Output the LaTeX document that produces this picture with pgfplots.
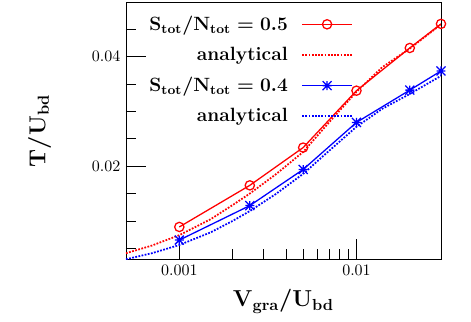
\documentclass[border=0pt]{standalone}
\usepackage{pgfplots}
\pgfplotsset{compat=1.18}
\usetikzlibrary{calc}

% gnuplot-like star: plus and cross together
\pgfdeclareplotmark{pstar}{%
  \pgfpathmoveto{\pgfqpoint{-\pgfplotmarksize}{0pt}}%
  \pgfpathlineto{\pgfqpoint{\pgfplotmarksize}{0pt}}%
  \pgfpathmoveto{\pgfqpoint{0pt}{-\pgfplotmarksize}}%
  \pgfpathlineto{\pgfqpoint{0pt}{\pgfplotmarksize}}%
  \pgfpathmoveto{\pgfqpoint{-\pgfplotmarksize}{-\pgfplotmarksize}}%
  \pgfpathlineto{\pgfqpoint{\pgfplotmarksize}{\pgfplotmarksize}}%
  \pgfpathmoveto{\pgfqpoint{-\pgfplotmarksize}{\pgfplotmarksize}}%
  \pgfpathlineto{\pgfqpoint{\pgfplotmarksize}{-\pgfplotmarksize}}%
  \pgfusepathqstroke}

\begin{document}
\begin{tikzpicture}
\begin{semilogxaxis}[
    scale only axis,
    width=196.9pt, height=160.8pt,
    xmin=0.0005, xmax=0.03,
    ymin=0.003, ymax=0.05,
    xtick={0.001,0.01},
    xticklabels={0.001,0.01},
    ytick={0.02,0.04},
    yticklabels={0.02,0.04},
    minor ytick={0.005,0.01,0.015,0.025,0.03,0.035,0.045},
    tick pos=left,
    tick align=inside,
    major tick length=12.5pt,
    minor tick length=6.25pt,
    tick style={black, line width=0.5pt},
    axis line style={black, line width=0.6pt},
    xlabel={$\mathrm{V_{gra}/U_{bd}}$},
    ylabel={$\mathrm{T/U_{bd}}$},
    label style={font=\Large\boldmath},
    xlabel style={at={(axis description cs:0.5,-0.184)}, anchor=base},
    ylabel style={at={(axis description cs:-0.274,0.5)}, anchor=center},
    legend plot pos=right,
    legend cell align=right,
    legend style={draw=none, fill=none, font=\large\boldmath,
        at={(axis description cs:0.048,0.972)}, anchor=north west,
        row sep=5pt, column sep=6.5pt},
    legend image code/.code={%
        \draw[mark repeat=2,mark phase=2]
        plot coordinates {(0pt,0pt) (15.5pt,0pt) (31pt,0pt)};},
]
\addplot[red, line width=0.8pt, mark=o, mark size=2.9pt, mark options={solid}]
coordinates {(0.001,0.0089) (0.0025,0.0165) (0.005,0.0234) (0.01,0.0338) (0.02,0.0416) (0.03,0.0460)};
\addlegendentry{$\mathrm{S_{tot}/N_{tot}=0.5}$}

\addplot[red, line width=1.1pt, dash pattern=on 1.1pt off 0.9pt]
coordinates {(0.0005,0.0041) (0.0007,0.0055) (0.001,0.0074) (0.0015,0.0103) (0.002,0.0129) (0.0025,0.0150) (0.0035,0.0185) (0.005,0.0226) (0.007,0.0280) (0.01,0.0336) (0.014,0.0381) (0.02,0.0415) (0.03,0.0459)};
\addlegendentry{\textbf{analytical}}

\addplot[blue, line width=0.8pt, mark=pstar, mark size=2.8pt, mark options={solid}]
coordinates {(0.001,0.0065) (0.0025,0.0128) (0.005,0.0194) (0.01,0.0280) (0.02,0.0339) (0.03,0.0374)};
\addlegendentry{$\mathrm{S_{tot}/N_{tot}=0.4}$}

\addplot[blue, line width=1.1pt, dash pattern=on 1.1pt off 0.9pt]
coordinates {(0.0005,0.0030) (0.0007,0.0041) (0.001,0.0056) (0.0015,0.0079) (0.002,0.0100) (0.0025,0.0118) (0.0035,0.0149) (0.005,0.0186) (0.007,0.0228) (0.01,0.0272) (0.014,0.0305) (0.02,0.0332) (0.03,0.0365)};
\addlegendentry{\textbf{analytical}}
\end{semilogxaxis}
\pgfresetboundingbox
\useasboundingbox ($(current axis.south west)+(-78.75pt,-39.2pt)$) rectangle ($(current axis.north east)+(18.75pt,1.25pt)$);
\end{tikzpicture}
\end{document}
